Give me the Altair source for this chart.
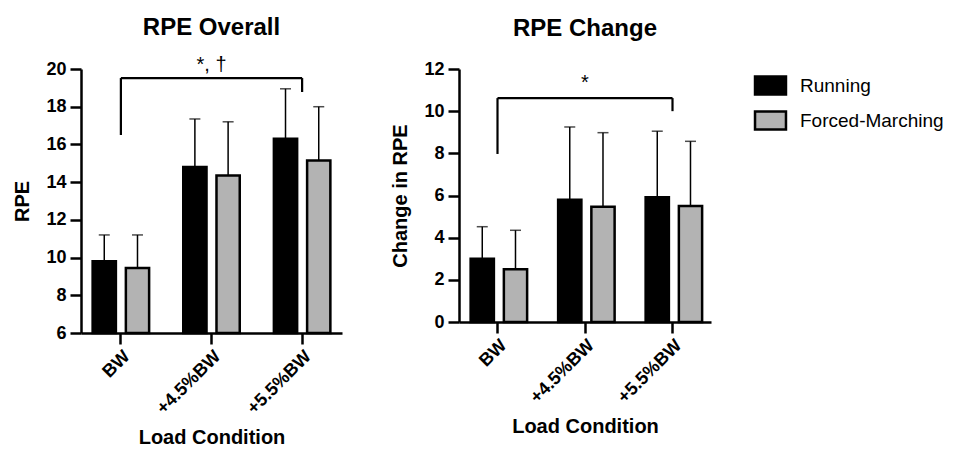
import altair as alt
import pandas as pd

categories = ["BW", "+4.5%BW", "+5.5%BW"]
series = ["Running", "Forced-Marching"]

overall_running = [9.8, 14.8, 16.3]
overall_running_err = [11.2, 17.35, 18.95]
overall_fm = [9.45, 14.35, 15.15]
overall_fm_err = [11.2, 17.2, 18.0]

change_running = [3.0, 5.8, 5.92]
change_running_err = [4.52, 9.25, 9.05]
change_fm = [2.5, 5.47, 5.5]
change_fm_err = [4.35, 8.98, 8.57]

# significance brackets: left end y, top y, right end y
overall_bracket = [16.5, 19.52, 18.78]
overall_label = "*, †"
overall_label_y = 19.9
change_bracket = [7.97, 10.62, 10.0]
change_label = "*"
change_label_y = 11.05

FONT = "Liberation Sans"
GRAY = "#b3b3b3"


def make_df(r, re, f, fe, base):
    rows = []
    for i, c in enumerate(categories):
        rows.append({"cat": c, "series": series[0], "mean": r[i], "upper": re[i], "base": base})
        rows.append({"cat": c, "series": series[1], "mean": f[i], "upper": fe[i], "base": base})
    return pd.DataFrame(rows)


def panel(df, bracket, label, label_y, ydom, yticks, ytitle, title, w, h, toff):
    xscale = alt.Scale(domain=categories, paddingInner=0.12, paddingOuter=0.0)
    xaxis = alt.Axis(title="Load Condition", labelAngle=-45)
    yscale = alt.Scale(domain=ydom, nice=False, zero=False)
    yaxis = alt.Axis(title=ytitle, values=yticks)

    def X(f):
        return alt.X(f, type="nominal", scale=xscale, axis=xaxis)

    def Y(f):
        return alt.Y(f, type="quantitative", scale=yscale, axis=yaxis)

    xoff = alt.XOffset("series:N",
                       scale=alt.Scale(domain=series, paddingInner=0.3, paddingOuter=0.35))
    base = alt.Chart(df)
    bars = base.mark_bar(stroke="black", strokeWidth=2.5).encode(
        x=X("cat"), xOffset=xoff,
        y=Y("mean"), y2="base:Q",
        color=alt.Color("series:N",
                        scale=alt.Scale(domain=series, range=["black", GRAY]),
                        legend=alt.Legend(title=None)),
    )
    err = base.mark_rule(color="black", strokeWidth=1.5).encode(
        x=X("cat"), xOffset=xoff, y=Y("mean"), y2="upper:Q")
    caps = base.mark_tick(color="black", thickness=1.5, size=11).encode(
        x=X("cat"), xOffset=xoff, y=Y("upper"))
    bdf = pd.DataFrame({
        "x": [categories[0], categories[0], categories[2]],
        "x2": [categories[0], categories[2], categories[2]],
        "y": [bracket[0], bracket[1], bracket[2]],
        "y2": [bracket[1], bracket[1], bracket[1]],
    })
    br = alt.Chart(bdf).mark_rule(color="black", strokeWidth=2.2).encode(
        x=X("x"), x2="x2:N", y=Y("y"), y2="y2:Q")
    tdf = pd.DataFrame({"x": [categories[1]], "y": [label_y], "t": [label]})
    txt = alt.Chart(tdf).mark_text(fontSize=20, font=FONT, color="black",
                                   baseline="alphabetic").encode(
        x=X("x"), y=Y("y"), text="t:N")
    return alt.layer(bars, err, caps, br, txt).properties(
        width=w, height=h,
        title=alt.TitleParams(title, fontSize=24, fontWeight="bold",
                              font=FONT, color="black", offset=toff))


left = panel(make_df(overall_running, overall_running_err, overall_fm, overall_fm_err, 6),
             overall_bracket, overall_label, overall_label_y, [6, 20],
             list(range(6, 21, 2)), "RPE", "RPE Overall", 261, 264, 15)
right = panel(make_df(change_running, change_running_err, change_fm, change_fm_err, 0),
              change_bracket, change_label, change_label_y, [0, 12],
              list(range(0, 13, 2)), "Change in RPE", "RPE Change", 252, 253, 19)

chart = alt.hconcat(left, right, spacing=48).properties(
    padding={"left": 4, "top": 7, "right": 0, "bottom": 0}
).configure(
    font=FONT
).configure_view(stroke=None).configure_axis(
    labelFontSize=18, labelFontWeight="bold", titleFontSize=20,
    titleFontWeight="bold", tickSize=11, tickWidth=2.5, domainWidth=2.5,
    grid=False, domainColor="black", tickColor="black", labelColor="black",
    titleColor="black", labelFont=FONT, titleFont=FONT,
).configure_axisX(
    titlePadding=10, labelPadding=3,
).configure_axisY(
    titlePadding=13, labelPadding=4,
).configure_legend(
    orient="none", legendX=679, legendY=6,
    symbolType="M-1.72,-1H1.72V1H-1.72Z", symbolSize=324,
    symbolStrokeColor="black", symbolStrokeWidth=2.5,
    labelFontSize=19, labelFont=FONT, labelColor="black",
    labelOffset=19, rowPadding=6, symbolOpacity=1,
)

chart.save("out.html", embed_options={"renderer": "svg", "actions": False})
